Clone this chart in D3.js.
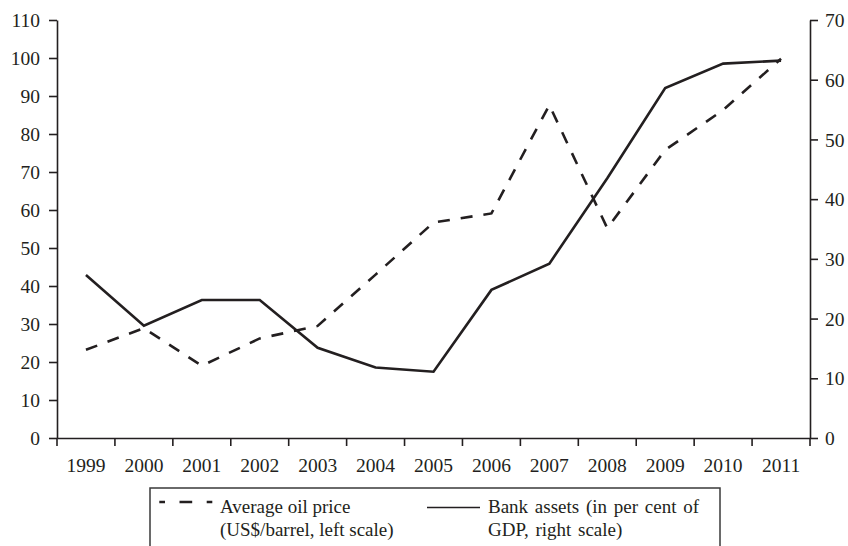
<!DOCTYPE html>
<html>
<head>
<meta charset="utf-8">
<script src="https://cdn.jsdelivr.net/npm/d3@7"></script>
<style>
  html, body { margin: 0; padding: 0; background: #fff; }
  svg { display: block; }
  text { font-family: "Liberation Serif", "DejaVu Serif", serif; fill: #231f20; }
</style>
</head>
<body>
<script>
// Years on the horizontal axis
const years = ["1999","2000","2001","2002","2003","2004","2005","2006","2007","2008","2009","2010","2011"];
// Average oil price, US$/barrel (left scale)
const oilPrice = [23.2, 28.9, 19.0, 26.2, 29.5, 43.0, 56.7, 59.1, 87.6, 55.2, 75.8, 86.3, 99.8];
// Bank assets, per cent of GDP (right scale)
const bankAssets = [27.3, 18.8, 23.1, 23.1, 15.1, 11.8, 11.1, 24.8, 29.2, 43.5, 58.6, 62.7, 63.2];
// Axis ticks
const leftTicks = [0,10,20,30,40,50,60,70,80,90,100,110];
const rightTicks = [0,10,20,30,40,50,60,70];
// Legend entries
const legendOil = ["Average oil price", "(US$/barrel, left scale)"];
const legendBank = ["Bank assets (in per cent of", "GDP, right scale)"];

const W = 848, H = 546;
const ink = "#231f20";
const tickFont = "19.5px";
const legendFont = "19px";

const plot = { left: 57, right: 810, top: 20, bottom: 438 };

const svg = d3.select("body").append("svg")
  .attr("width", W).attr("height", H);

const x = d3.scaleBand().domain(years).range([plot.left, plot.right]).padding(0);
const yL = d3.scaleLinear().domain([0, 110]).range([plot.bottom, plot.top]);
const yR = d3.scaleLinear().domain([0, 70]).range([plot.bottom, plot.top]);

// Left axis
const leftAxis = svg.append("g")
  .attr("transform", `translate(${plot.left},0)`)
  .call(d3.axisLeft(yL).tickValues(leftTicks).tickSize(8).tickPadding(9).tickSizeOuter(0));

// Right axis
const rightAxis = svg.append("g")
  .attr("transform", `translate(${plot.right},0)`)
  .call(d3.axisRight(yR).tickValues(rightTicks).tickSize(8).tickPadding(7).tickSizeOuter(0));

// Bottom axis: labels centred in each band, ticks at band edges
const bottomAxis = svg.append("g")
  .attr("transform", `translate(0,${plot.bottom})`)
  .call(d3.axisBottom(x).tickSize(0).tickPadding(33.5).tickSizeOuter(0));

const edges = years.map(d => x(d)).concat([x.range()[1]]);
bottomAxis.selectAll("line.edge").data(edges).enter().append("line")
  .attr("class", "edge")
  .attr("x1", d => d).attr("x2", d => d)
  .attr("y1", 0).attr("y2", 8);

[leftAxis, rightAxis, bottomAxis].forEach(g => {
  g.selectAll("path.domain").attr("stroke", ink).attr("stroke-width", 1.6);
  g.selectAll("line").attr("stroke", ink).attr("stroke-width", 1.6);
  g.selectAll("text").style("font-size", tickFont).attr("fill", ink)
    .style("font-family", "'Liberation Serif', serif");
});
leftAxis.selectAll(".tick text").attr("dy", "0.34em");
rightAxis.selectAll(".tick text").attr("dy", "0.34em");
bottomAxis.selectAll(".tick text").attr("dy", "0");

// Series lines
const cx = d => x(d) + x.bandwidth() / 2;

const oilLine = d3.line()
  .x((d, i) => cx(years[i]))
  .y(d => yL(d));
const bankLine = d3.line()
  .x((d, i) => cx(years[i]))
  .y(d => yR(d));

svg.append("path")
  .datum(oilPrice)
  .attr("d", oilLine)
  .attr("fill", "none")
  .attr("stroke", ink)
  .attr("stroke-width", 2.6)
  .attr("stroke-dasharray", "12,11");

svg.append("path")
  .datum(bankAssets)
  .attr("d", bankLine)
  .attr("fill", "none")
  .attr("stroke", ink)
  .attr("stroke-width", 2.6);

// Legend
const lg = svg.append("g");
lg.append("rect")
  .attr("x", 150).attr("y", 488)
  .attr("width", 570).attr("height", 80)
  .attr("fill", "none")
  .attr("stroke", "#3a3a3a")
  .attr("stroke-width", 1.5);

lg.append("line")
  .attr("x1", 159.3).attr("x2", 212.3)
  .attr("y1", 502).attr("y2", 502)
  .attr("stroke", ink).attr("stroke-width", 2.6)
  .attr("stroke-dasharray", "12.7,14.5")
  .attr("stroke-dashoffset", 7);

lg.append("line")
  .attr("x1", 427).attr("x2", 480)
  .attr("y1", 507.5).attr("y2", 507.5)
  .attr("stroke", ink).attr("stroke-width", 1.4);

lg.selectAll("text.oil").data(legendOil).enter().append("text")
  .attr("class", "oil")
  .attr("x", 220).attr("y", (d, i) => 512.5 + i * 23.5)
  .style("font-size", legendFont)
  .text(d => d);

lg.selectAll("text.bank").data(legendBank).enter().append("text")
  .attr("class", "bank")
  .attr("x", 488).attr("y", (d, i) => 512.5 + i * 23.5)
  .style("font-size", legendFont)
  .style("word-spacing", "2px")
  .text(d => d);
</script>
</body>
</html>
